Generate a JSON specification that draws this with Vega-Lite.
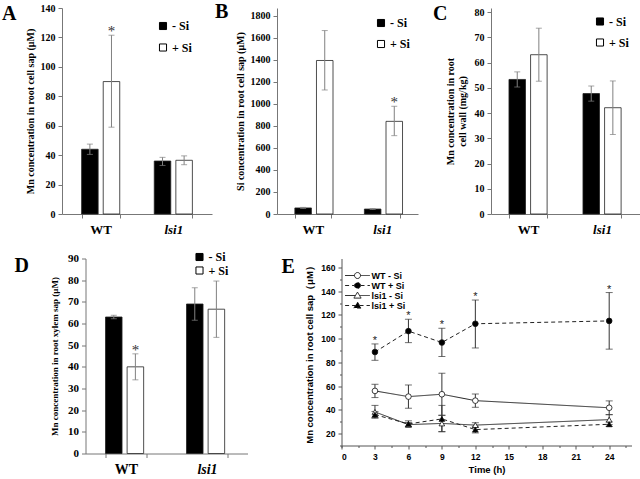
{
  "$schema": "https://vega.github.io/schema/vega-lite/v6.json",
  "padding": {"left": 2, "top": 2, "right": 0, "bottom": 0},
  "background": "white",
  "config": {
    "view": {"stroke": null},
    "font": "Liberation Serif",
    "axis": {
      "grid": false, "domainColor": "#777", "tickColor": "#777", "tickSize": 4, "labelOverlap": false,
      "labelFont": "Liberation Serif", "labelFontWeight": "bold", "labelFontSize": 10, "labelColor": "black", "labelPadding": 3,
      "titleFont": "Liberation Serif", "titleFontWeight": "bold", "titleFontSize": 10, "titleColor": "black", "titlePadding": 5
    },
    "axisX": {"labelFontSize": 13, "labelPadding": 5, "labelAngle": 0, "tickBand": "extent", "title": null},
    "legend": {
      "title": null, "orient": "none", "symbolType": "square", "symbolSize": 50, "symbolStrokeColor": "black", "symbolStrokeWidth": 1,
      "labelFont": "Liberation Serif", "labelFontWeight": "bold", "labelFontSize": 12, "labelColor": "black", "labelOffset": 3, "padding": 0
    },
    "title": {"anchor": "start", "frame": "group", "font": "Liberation Serif", "fontWeight": "bold", "fontSize": 20, "color": "black"}
  },
  "datasets": {
    "A": [
      {"genotype": "WT", "treatment": "- Si", "mean": 44, "lo": 40.5, "hi": 47.5, "sig": false},
      {"genotype": "WT", "treatment": "+ Si", "mean": 90, "lo": 59, "hi": 121.5, "sig": true},
      {"genotype": "lsi1", "treatment": "- Si", "mean": 36, "lo": 33, "hi": 38.5, "sig": false},
      {"genotype": "lsi1", "treatment": "+ Si", "mean": 36.5, "lo": 33.5, "hi": 39.5, "sig": false}
    ],
    "B": [
      {"genotype": "WT", "treatment": "- Si", "mean": 55, "lo": 50, "hi": 60, "sig": false},
      {"genotype": "WT", "treatment": "+ Si", "mean": 1395, "lo": 1127, "hi": 1667, "sig": false},
      {"genotype": "lsi1", "treatment": "- Si", "mean": 45, "lo": 41, "hi": 49, "sig": false},
      {"genotype": "lsi1", "treatment": "+ Si", "mean": 842, "lo": 712, "hi": 979, "sig": true}
    ],
    "C": [
      {"genotype": "WT", "treatment": "- Si", "mean": 53.3, "lo": 50.3, "hi": 56.3, "sig": false},
      {"genotype": "WT", "treatment": "+ Si", "mean": 63.1, "lo": 52.6, "hi": 73.6, "sig": false},
      {"genotype": "lsi1", "treatment": "- Si", "mean": 47.7, "lo": 44.7, "hi": 50.7, "sig": false},
      {"genotype": "lsi1", "treatment": "+ Si", "mean": 42.1, "lo": 31.5, "hi": 52.7, "sig": false}
    ],
    "D": [
      {"genotype": "WT", "treatment": "- Si", "mean": 63, "lo": 62.2, "hi": 63.8, "sig": false},
      {"genotype": "WT", "treatment": "+ Si", "mean": 40, "lo": 34, "hi": 46, "sig": true},
      {"genotype": "lsi1", "treatment": "- Si", "mean": 69, "lo": 61.5, "hi": 76.5, "sig": false},
      {"genotype": "lsi1", "treatment": "+ Si", "mean": 66.6, "lo": 53.6, "hi": 79.6, "sig": false}
    ],
    "E": [
      {"series": "WT - Si", "time": 3, "mean": 56, "lo": 50.4, "hi": 61.6, "sig": false},
      {"series": "WT - Si", "time": 6, "mean": 51.2, "lo": 41.4, "hi": 61, "sig": false},
      {"series": "WT - Si", "time": 9, "mean": 53.2, "lo": 35.5, "hi": 70.9, "sig": false},
      {"series": "WT - Si", "time": 12, "mean": 47.8, "lo": 42.2, "hi": 53.4, "sig": false},
      {"series": "WT - Si", "time": 24, "mean": 41.8, "lo": 36, "hi": 47.6, "sig": false},
      {"series": "WT + Si", "time": 3, "mean": 88.8, "lo": 81.8, "hi": 95.6, "sig": true},
      {"series": "WT + Si", "time": 6, "mean": 106.4, "lo": 96.7, "hi": 116.4, "sig": true},
      {"series": "WT + Si", "time": 9, "mean": 96.8, "lo": 85, "hi": 108.8, "sig": true},
      {"series": "WT + Si", "time": 12, "mean": 112.6, "lo": 92.2, "hi": 132.6, "sig": true},
      {"series": "WT + Si", "time": 24, "mean": 115, "lo": 91.2, "hi": 138.9, "sig": true},
      {"series": "lsi1 - Si", "time": 3, "mean": 38.3, "lo": 33, "hi": 43.8, "sig": false},
      {"series": "lsi1 - Si", "time": 6, "mean": 27.6, "lo": 25.8, "hi": 29.4, "sig": false},
      {"series": "lsi1 - Si", "time": 9, "mean": 28.6, "lo": 21.8, "hi": 35.4, "sig": false},
      {"series": "lsi1 - Si", "time": 12, "mean": 27.2, "lo": 25.2, "hi": 29.2, "sig": false},
      {"series": "lsi1 - Si", "time": 24, "mean": 31.8, "lo": 27.6, "hi": 36, "sig": false},
      {"series": "lsi1 + Si", "time": 3, "mean": 36, "lo": 33.5, "hi": 38.7, "sig": false},
      {"series": "lsi1 + Si", "time": 6, "mean": 28.2, "lo": 25.6, "hi": 30.8, "sig": false},
      {"series": "lsi1 + Si", "time": 9, "mean": 32.4, "lo": 21.5, "hi": 43.8, "sig": false},
      {"series": "lsi1 + Si", "time": 12, "mean": 23.4, "lo": 20.6, "hi": 26.2, "sig": false},
      {"series": "lsi1 + Si", "time": 24, "mean": 27.9, "lo": 26, "hi": 29.8, "sig": false}
    ]
  },
  "resolve": {"scale": {"fill": "independent", "strokeDash": "independent"}, "legend": {"fill": "independent", "strokeDash": "independent"}},
  "vconcat": [
    {
      "spacing": 15,
      "resolve": {"scale": {"fill": "independent"}, "legend": {"fill": "independent"}},
      "hconcat": [
        {
          "spacing": 3,
          "resolve": {"scale": {"fill": "independent"}, "legend": {"fill": "independent"}},
          "hconcat": [
            {
              "data": {"name": "A"},
              "width": 150, "height": 206,
              "title": {"text": "A", "dx": -60, "offset": -21},
              "encoding": {
                "x": {"field": "genotype", "type": "nominal", "sort": ["WT", "lsi1"], "scale": {"paddingInner": 0.475, "paddingOuter": 0.27},
                  "axis": {"labelFontStyle": {"condition": {"test": "datum.value === 'lsi1'", "value": "italic"}, "value": "normal"}}},
                "xOffset": {"field": "treatment", "type": "nominal", "sort": ["- Si", "+ Si"], "scale": {"paddingInner": 0.235}},
                "y": {"type": "quantitative", "scale": {"domain": [0, 140], "nice": false},
                  "axis": {"values": [0, 20, 40, 60, 80, 100, 120, 140], "title": "Mn concentration in root cell sap (μM)"}}
              },
              "layer": [
                {"mark": {"type": "bar", "stroke": "#222", "strokeWidth": 0.8},
                 "encoding": {
                   "y": {"field": "mean"},
                   "fill": {"field": "treatment", "type": "nominal", "scale": {"domain": ["- Si", "+ Si"], "range": ["black", "white"]},
                     "legend": {"legendX": 95, "legendY": 12, "rowPadding": 9.5}}
                 }},
                {"mark": {"type": "rule", "color": "#808080", "strokeWidth": 1}, "encoding": {"y": {"field": "lo"}, "y2": {"field": "hi"}}},
                {"mark": {"type": "tick", "orient": "horizontal", "size": 6, "thickness": 1, "color": "#808080"}, "encoding": {"y": {"field": "hi"}}},
                {"mark": {"type": "tick", "orient": "horizontal", "size": 6, "thickness": 1, "color": "#808080"}, "encoding": {"y": {"field": "lo"}}},
                {"transform": [{"filter": "datum.sig"}], "mark": {"type": "text", "text": "*", "fontSize": 15, "baseline": "alphabetic", "dy": 1, "color": "#333"}, "encoding": {"y": {"field": "hi"}}}
              ]
            },
            {
              "data": {"name": "B"},
              "width": 141, "height": 206,
              "title": {"text": "B", "dx": -62, "offset": -14},
              "encoding": {
                "x": {"field": "genotype", "type": "nominal", "sort": ["WT", "lsi1"], "scale": {"paddingInner": 0.486, "paddingOuter": 0.257},
                  "axis": {"labelFontStyle": {"condition": {"test": "datum.value === 'lsi1'", "value": "italic"}, "value": "normal"}}},
                "xOffset": {"field": "treatment", "type": "nominal", "sort": ["- Si", "+ Si"], "scale": {"paddingInner": 0.28}},
                "y": {"type": "quantitative", "scale": {"domain": [0, 1872], "nice": false},
                  "axis": {"values": [0, 200, 400, 600, 800, 1000, 1200, 1400, 1600, 1800], "format": "d", "title": "Si concentration in root cell sap (μM)"}}
              },
              "layer": [
                {"mark": {"type": "bar", "stroke": "#222", "strokeWidth": 0.8},
                 "encoding": {
                   "y": {"field": "mean"},
                   "fill": {"field": "treatment", "type": "nominal", "scale": {"domain": ["- Si", "+ Si"], "range": ["black", "white"]},
                     "legend": {"legendX": 98, "legendY": 9, "rowPadding": 9}}
                 }},
                {"mark": {"type": "rule", "color": "#808080", "strokeWidth": 1}, "encoding": {"y": {"field": "lo"}, "y2": {"field": "hi"}}},
                {"mark": {"type": "tick", "orient": "horizontal", "size": 6, "thickness": 1, "color": "#808080"}, "encoding": {"y": {"field": "hi"}}},
                {"mark": {"type": "tick", "orient": "horizontal", "size": 6, "thickness": 1, "color": "#808080"}, "encoding": {"y": {"field": "lo"}}},
                {"transform": [{"filter": "datum.sig"}], "mark": {"type": "text", "text": "*", "fontSize": 15, "baseline": "alphabetic", "dy": 1, "color": "#333"}, "encoding": {"y": {"field": "hi"}}}
              ]
            }
          ]
        },
        {
          "data": {"name": "C"},
          "width": 164, "height": 206,
          "title": {"text": "C", "dx": -58, "offset": -17},
          "encoding": {
            "x": {"field": "genotype", "type": "nominal", "sort": ["WT", "lsi1"], "scale": {"paddingInner": 0.486, "paddingOuter": 0.351, "align": 0.346},
              "axis": {"labelFontStyle": {"condition": {"test": "datum.value === 'lsi1'", "value": "italic"}, "value": "normal"}}},
            "xOffset": {"field": "treatment", "type": "nominal", "sort": ["- Si", "+ Si"], "scale": {"paddingInner": 0.19}},
            "y": {"type": "quantitative", "scale": {"domain": [0, 81.6], "nice": false},
              "axis": {"values": [0, 10, 20, 30, 40, 50, 60, 70, 80], "title": ["Mn concentration in root", "cell wall (mg/kg)"], "titlePadding": 7}}
          },
          "layer": [
            {"mark": {"type": "bar", "stroke": "#222", "strokeWidth": 0.8},
             "encoding": {
               "y": {"field": "mean"},
               "fill": {"field": "treatment", "type": "nominal", "scale": {"domain": ["- Si", "+ Si"], "range": ["black", "white"]},
                 "legend": {"legendX": 103, "legendY": 7.5, "rowPadding": 9}}
             }},
            {"mark": {"type": "rule", "color": "#808080", "strokeWidth": 1}, "encoding": {"y": {"field": "lo"}, "y2": {"field": "hi"}}},
            {"mark": {"type": "tick", "orient": "horizontal", "size": 6, "thickness": 1, "color": "#808080"}, "encoding": {"y": {"field": "hi"}}},
            {"mark": {"type": "tick", "orient": "horizontal", "size": 6, "thickness": 1, "color": "#808080"}, "encoding": {"y": {"field": "lo"}}}
          ]
        }
      ]
    },
    {
      "spacing": 34,
      "resolve": {"scale": {"fill": "independent", "strokeDash": "independent"}, "legend": {"fill": "independent", "strokeDash": "independent"}},
      "hconcat": [
        {
          "data": {"name": "D"},
          "width": 162, "height": 195,
          "title": {"text": "D", "dx": -71, "offset": -25},
          "encoding": {
            "x": {"field": "genotype", "type": "nominal", "sort": ["WT", "lsi1"], "scale": {"paddingInner": 0.494, "paddingOuter": 0.247},
              "axis": {"labelFontSize": 14, "labelFontStyle": {"condition": {"test": "datum.value === 'lsi1'", "value": "italic"}, "value": "normal"}}},
            "xOffset": {"field": "treatment", "type": "nominal", "sort": ["- Si", "+ Si"], "scale": {"paddingInner": 0.18}},
            "y": {"type": "quantitative", "scale": {"domain": [0, 90], "nice": false},
              "axis": {"values": [0, 10, 20, 30, 40, 50, 60, 70, 80, 90], "labelFontSize": 11, "titleFontSize": 9, "title": "Mn concentration in root xylem sap (μM)", "titlePadding": 8}}
          },
          "layer": [
            {"mark": {"type": "bar", "stroke": "#222", "strokeWidth": 0.8},
             "encoding": {
               "y": {"field": "mean"},
               "fill": {"field": "treatment", "type": "nominal", "scale": {"domain": ["- Si", "+ Si"], "range": ["black", "white"]},
                 "legend": {"legendX": 108, "legendY": -7.5, "rowPadding": 1.5}}
             }},
            {"mark": {"type": "rule", "color": "#808080", "strokeWidth": 1}, "encoding": {"y": {"field": "lo"}, "y2": {"field": "hi"}}},
            {"mark": {"type": "tick", "orient": "horizontal", "size": 6, "thickness": 1, "color": "#808080"}, "encoding": {"y": {"field": "hi"}}},
            {"mark": {"type": "tick", "orient": "horizontal", "size": 6, "thickness": 1, "color": "#808080"}, "encoding": {"y": {"field": "lo"}}},
            {"transform": [{"filter": "datum.sig"}], "mark": {"type": "text", "text": "*", "fontSize": 15, "baseline": "alphabetic", "dy": 1, "color": "#333"}, "encoding": {"y": {"field": "hi"}}}
          ]
        },
        {
          "data": {"name": "E"},
          "width": 290, "height": 187,
          "title": {"text": "E", "dx": -60, "offset": -18},
          "encoding": {
            "x": {"field": "time", "type": "quantitative", "scale": {"domain": [0, 26], "nice": false},
              "axis": {"values": [0, 1.5, 3, 4.5, 6, 7.5, 9, 10.5, 12, 13.5, 15, 16.5, 18, 19.5, 21, 22.5, 24, 25.5],
                "labelExpr": "datum.value % 3 === 0 ? datum.label : ''",
                "tickSize": {"condition": {"test": "datum.value % 3 !== 0", "value": 2}, "value": 3.5},
                "title": "Time (h)", "labelFont": "Liberation Sans", "labelFontSize": 8.5, "labelPadding": 3,
                "titleFont": "Liberation Sans", "titleFontSize": 9.5, "titlePadding": 4, "domainColor": "#555", "tickColor": "#555"}},
            "y": {"type": "quantitative", "scale": {"domain": [10, 167.6], "nice": false},
              "axis": {"values": [10, 20, 30, 40, 50, 60, 70, 80, 90, 100, 110, 120, 130, 140, 150, 160],
                "labelExpr": "datum.value % 20 === 0 ? datum.label : ''",
                "tickSize": {"condition": {"test": "datum.value % 20 !== 0", "value": 2}, "value": 3.5},
                "title": "Mn concentration in root cell sap（μM）", "labelFont": "Liberation Sans", "labelFontSize": 8.5,
                "titleFont": "Liberation Sans", "titleFontSize": 9.5, "titlePadding": 6, "domainColor": "#555", "tickColor": "#555"}}
          },
          "layer": [
            {"mark": {"type": "rule", "color": "#333", "strokeWidth": 1}, "encoding": {"y": {"field": "lo"}, "y2": {"field": "hi"}}},
            {"mark": {"type": "tick", "orient": "horizontal", "size": 7, "thickness": 1, "color": "#333"}, "encoding": {"y": {"field": "hi"}}},
            {"mark": {"type": "tick", "orient": "horizontal", "size": 7, "thickness": 1, "color": "#333"}, "encoding": {"y": {"field": "lo"}}},
            {"mark": {"type": "line", "color": "#222", "strokeWidth": 1},
             "encoding": {
               "y": {"field": "mean"},
               "detail": {"field": "series"},
               "strokeDash": {"field": "series", "type": "nominal",
                 "scale": {"domain": ["WT - Si", "WT + Si", "lsi1 - Si", "lsi1 + Si"], "range": [[1, 0], [4, 3], [1, 0], [4, 3]]},
                 "legend": {"legendX": 11.5, "legendY": 12.5, "symbolSize": 64, "rowPadding": -2.5, "labelOffset": 9.5,
                   "labelFont": "Liberation Sans", "labelFontSize": 9, "symbolStrokeWidth": 1,
                   "encode": {"symbols": {"update": {
                     "fill": {"signal": "indexof(datum.value, '+') >= 0 ? 'black' : 'white'"},
                     "stroke": {"value": "#222"},
                     "size": {"value": 64},
                     "shape": {"signal": "indexof(datum.value, 'lsi1') >= 0 ? 'M-3.1,0L-0.51,0M0.51,0L3.1,0M0,-0.85L0.9,0.65L-0.9,0.65Z' : 'M-3.1,0L-0.75,0M0.75,0L3.1,0M0.75,0A0.75,0.75,0,1,1,-0.75,0A0.75,0.75,0,1,1,0.75,0Z'"}
                   }}}}}
             }},
            {"mark": {"type": "point", "filled": true, "stroke": "#111", "strokeWidth": 0.8, "opacity": 1, "size": 32},
             "encoding": {
               "y": {"field": "mean"},
               "shape": {"condition": {"test": "indexof(datum.series, 'lsi1') >= 0", "value": "triangle-up"}, "value": "circle"},
               "fill": {"condition": {"test": "indexof(datum.series, '+') >= 0", "value": "black"}, "value": "white"}
             }},
            {"transform": [{"filter": "datum.sig"}], "mark": {"type": "text", "text": "*", "font": "Liberation Sans", "fontSize": 11, "baseline": "alphabetic", "dy": 0, "color": "#222"}, "encoding": {"y": {"field": "hi"}}}
          ]
        }
      ]
    }
  ],
  "spacing": 14.5,
  "center": true
}
